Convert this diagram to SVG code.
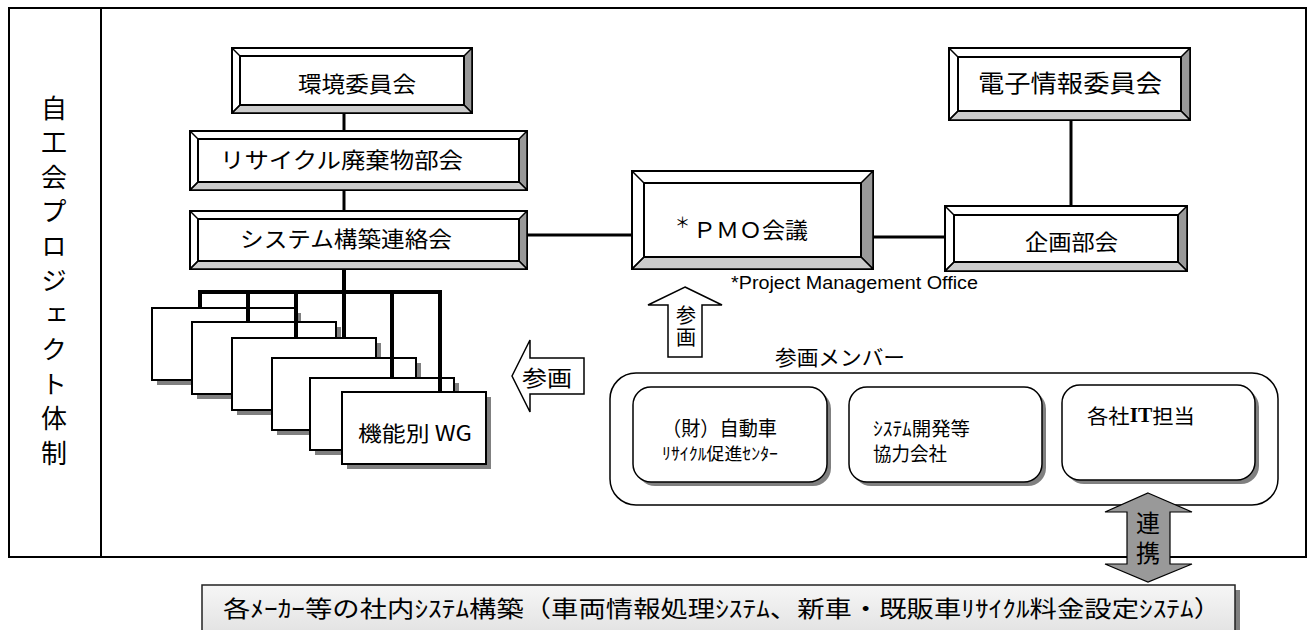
<svg xmlns="http://www.w3.org/2000/svg" width="1312" height="630" viewBox="0 0 1312 630">
<style>
text{font-family:"Noto Sans CJK JP","Liberation Sans",sans-serif;fill:#000;dominant-baseline:central}
.lat{font-family:"Liberation Sans",Arial,sans-serif}
.ser{font-family:"Liberation Serif","Times New Roman",serif;font-weight:bold}
.vt{writing-mode:vertical-rl;text-orientation:upright;dominant-baseline:central}
.outer{fill:#fff;stroke:#000;stroke-width:2}
.inner{fill:#fff;stroke:#000;stroke-width:2}
.rb{fill:#999;stroke:#000;stroke-width:1.5;stroke-linejoin:round}
.bb{fill:#ccc;stroke:#000;stroke-width:1.5;stroke-linejoin:round}
.dg{stroke:#000;stroke-width:1.5}
.ln{stroke:#000;stroke-width:3;fill:none}
.wl{stroke:#000;stroke-width:4;fill:none}
.wg{fill:#fff;stroke:#000;stroke-width:2}
.sh{fill:#808080}
.rr{fill:#fff;stroke:#000;stroke-width:1.5}
</style>
<defs>
<linearGradient id="gbot" x1="0" y1="0" x2="0" y2="1">
<stop offset="0" stop-color="#f6f6f6"/><stop offset="1" stop-color="#dedede"/>
</linearGradient>
</defs>
<rect width="1312" height="630" fill="#fff"/>
<g id="frame">
<rect x="9" y="8" width="1297" height="549" fill="none" stroke="#000" stroke-width="2"/>
<line x1="101" y1="8" x2="101" y2="557" stroke="#000" stroke-width="2"/>
<text class="vt" x="54" y="95" font-size="26" style="letter-spacing:8.5px">自工会プロジェクト体制</text>
</g>
<g id="connectors">
<line class="ln" x1="344" y1="113" x2="344" y2="131"/>
<line class="ln" x1="344" y1="190" x2="344" y2="211"/>
<line class="wl" x1="344" y1="269" x2="344" y2="358"/>
<line class="ln" x1="527" y1="235" x2="632" y2="235"/>
<line class="ln" x1="873" y1="237" x2="945" y2="237"/>
<line class="ln" x1="1071" y1="120" x2="1071" y2="206"/>
</g>
<g id="n-kankyo">
<rect class="outer" x="232" y="48" width="240" height="65"/>
<polygon class="rb" points="472,48 472,113 464,105 464,56"/>
<polygon class="bb" points="232,113 472,113 464,105 240,105"/>
<line class="dg" x1="232" y1="48" x2="240" y2="56"/><line class="dg" x1="232" y1="113" x2="240" y2="105"/>
<rect class="inner" x="240" y="56" width="224" height="49"/>
<text x="298" y="82" font-size="22" textLength="118" lengthAdjust="spacingAndGlyphs">環境委員会</text>
</g>
<g id="n-recycle">
<rect class="outer" x="190" y="131" width="337" height="59"/>
<polygon class="rb" points="527,131 527,190 519,182 519,139"/>
<polygon class="bb" points="190,190 527,190 519,182 198,182"/>
<line class="dg" x1="190" y1="131" x2="198" y2="139"/><line class="dg" x1="190" y1="190" x2="198" y2="182"/>
<rect class="inner" x="198" y="139" width="321" height="43"/>
<text x="220" y="158" font-size="22" textLength="243" lengthAdjust="spacingAndGlyphs">リサイクル廃棄物部会</text>
</g>
<g id="n-system">
<rect class="outer" x="190" y="211" width="337" height="58"/>
<polygon class="rb" points="527,211 527,269 519,261 519,219"/>
<polygon class="bb" points="190,269 527,269 519,261 198,261"/>
<line class="dg" x1="190" y1="211" x2="198" y2="219"/><line class="dg" x1="190" y1="269" x2="198" y2="261"/>
<rect class="inner" x="198" y="219" width="321" height="42"/>
<text x="240" y="237" font-size="22" textLength="212" lengthAdjust="spacingAndGlyphs">システム構築連絡会</text>
</g>
<g id="n-wg">
<rect class="sh" x="157" y="313" width="144" height="72"/>
<rect class="wg" x="152" y="308" width="144" height="72"/>
<rect class="sh" x="197" y="327" width="144" height="72"/>
<rect class="wg" x="192" y="322" width="144" height="72"/>
<rect class="sh" x="237" y="343" width="144" height="72"/>
<rect class="wg" x="232" y="338" width="144" height="72"/>
<rect class="sh" x="277" y="363" width="144" height="72"/>
<rect class="wg" x="272" y="358" width="144" height="72"/>
<rect class="sh" x="315" y="383" width="144" height="72"/>
<rect class="wg" x="310" y="378" width="144" height="72"/>
<rect class="sh" x="347" y="397" width="144" height="72"/>
<rect class="wg" x="342" y="392" width="144" height="72"/>
<text x="358" y="432" font-size="21" textLength="114" lengthAdjust="spacingAndGlyphs">機能別 WG</text>
</g>
<g id="wg-connectors">
<line class="wl" x1="198" y1="292" x2="442" y2="292"/>
<line class="wl" x1="200" y1="292" x2="200" y2="308"/>
<line class="wl" x1="248" y1="292" x2="248" y2="322"/>
<line class="wl" x1="296" y1="292" x2="296" y2="338"/>
<line class="wl" x1="392" y1="292" x2="392" y2="378"/>
<line class="wl" x1="440" y1="292" x2="440" y2="392"/>
</g>
<g id="n-pmo">
<rect class="outer" x="632" y="171" width="241" height="98"/>
<polygon class="rb" points="873,171 873,269 861,257 861,183"/>
<polygon class="bb" points="632,269 873,269 861,257 644,257"/>
<line class="dg" x1="632" y1="171" x2="644" y2="183"/><line class="dg" x1="632" y1="269" x2="644" y2="257"/>
<rect class="inner" x="644" y="183" width="217" height="74"/>
<text><tspan x="675" y="221" font-size="15">＊</tspan><tspan x="693" y="228" font-size="22" textLength="115" lengthAdjust="spacingAndGlyphs">ＰＭＯ会議</tspan></text>
</g>
<text class="lat" x="731" y="283" font-size="17.5" textLength="247" lengthAdjust="spacingAndGlyphs">*Project Management Office</text>
<g id="n-denshi">
<rect class="outer" x="949" y="48" width="241" height="72"/>
<polygon class="rb" points="1190,48 1190,120 1181,111 1181,57"/>
<polygon class="bb" points="949,120 1190,120 1181,111 958,111"/>
<line class="dg" x1="949" y1="48" x2="958" y2="57"/><line class="dg" x1="949" y1="120" x2="958" y2="111"/>
<rect class="inner" x="958" y="57" width="223" height="54"/>
<text x="978" y="81" font-size="24" textLength="184" lengthAdjust="spacingAndGlyphs">電子情報委員会</text>
</g>
<g id="n-kikaku">
<rect class="outer" x="945" y="206" width="242" height="65"/>
<polygon class="rb" points="1187,206 1187,271 1178,262 1178,215"/>
<polygon class="bb" points="945,271 1187,271 1178,262 954,262"/>
<line class="dg" x1="945" y1="206" x2="954" y2="215"/><line class="dg" x1="945" y1="271" x2="954" y2="262"/>
<rect class="inner" x="954" y="215" width="224" height="47"/>
<text x="1025" y="240" font-size="22" textLength="93" lengthAdjust="spacingAndGlyphs">企画部会</text>
</g>
<g id="arrow-left">
<polygon points="512,376 530,340 530,358 584,358 584,394 530,394 530,412" fill="#fff" stroke="#000" stroke-width="1.5"/>
<text x="522" y="376" font-size="22" textLength="50" lengthAdjust="spacingAndGlyphs">参画</text>
</g>
<g id="arrow-up">
<polygon points="685,287 722,305 702,305 702,357 668,357 668,305 648,305" fill="#fff" stroke="#000" stroke-width="1.5"/>
<text class="vt" x="686" y="305" font-size="20" style="letter-spacing:2px">参画</text>
</g>
<g id="members">
<text x="775" y="356" font-size="21" textLength="130" lengthAdjust="spacingAndGlyphs">参画メンバー</text>
<rect class="rr" x="610" y="373" width="668" height="132" rx="26"/>
<rect class="sh" x="637" y="391" width="194" height="95" rx="18"/>
<rect class="rr" x="633" y="387" width="194" height="95" rx="18"/>
<text x="662" y="427" font-size="20" textLength="115" lengthAdjust="spacingAndGlyphs">（財）自動車</text>
<text x="662" y="452" font-size="17" textLength="116" lengthAdjust="spacingAndGlyphs">ﾘｻｲｸﾙ促進ｾﾝﾀｰ</text>
<rect class="sh" x="853" y="391" width="193" height="95" rx="18"/>
<rect class="rr" x="849" y="387" width="193" height="95" rx="18"/>
<text x="873" y="427" font-size="19" textLength="97" lengthAdjust="spacingAndGlyphs">ｼｽﾃﾑ開発等</text>
<text x="873" y="452" font-size="19" textLength="74" lengthAdjust="spacingAndGlyphs">協力会社</text>
<rect class="sh" x="1066" y="389" width="193" height="95" rx="18"/>
<rect class="rr" x="1062" y="385" width="193" height="95" rx="18"/>
<text x="1087" y="415" font-size="20" textLength="108" lengthAdjust="spacingAndGlyphs">各社<tspan class="ser">IT</tspan>担当</text>
</g>
<g id="arrow-both">
<polygon points="1148,493 1192,512 1170,512 1170,564 1192,564 1148,582 1105,564 1127,564 1127,512 1105,512" fill="#999" stroke="#000" stroke-width="1.2"/>
<text class="vt" x="1148" y="511" font-size="24" style="letter-spacing:6px">連携</text>
</g>
<g id="n-bottom">
<rect class="sh" x="1235" y="590" width="5" height="45"/>
<rect x="202" y="585" width="1033" height="60" fill="url(#gbot)" stroke="#222" stroke-width="1.5"/>
<text x="223" y="607" font-size="23" textLength="998" lengthAdjust="spacingAndGlyphs">各ﾒｰｶｰ等の社内ｼｽﾃﾑ構築（車両情報処理ｼｽﾃﾑ、新車・既販車ﾘｻｲｸﾙ料金設定ｼｽﾃﾑ）</text>
</g>
</svg>
